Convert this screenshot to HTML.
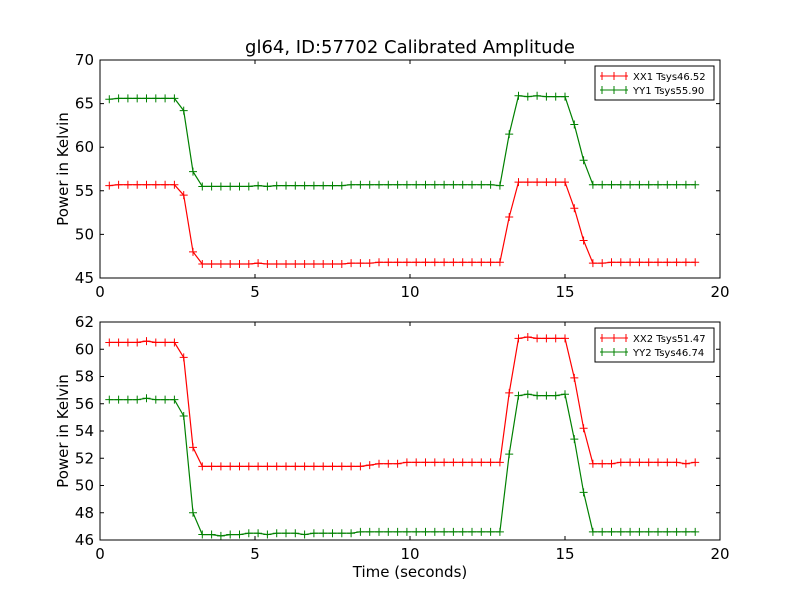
<!DOCTYPE html>
<html><head><meta charset="utf-8"><style>
body{margin:0;background:#fff;}
svg text{font-family:"DejaVu Sans","Liberation Sans",sans-serif;}
</style></head><body>
<svg id="chart" width="800" height="600" xmlns="http://www.w3.org/2000/svg">
<rect width="800" height="600" fill="#fff"/>
</svg>
<script>
const xx1 = [55.6,55.7,55.7,55.7,55.7,55.7,55.7,55.7,54.5,48.0,46.6,46.6,46.6,46.6,46.6,46.6,46.7,46.6,46.6,46.6,46.6,46.6,46.6,46.6,46.6,46.6,46.7,46.7,46.7,46.8,46.8,46.8,46.8,46.8,46.8,46.8,46.8,46.8,46.8,46.8,46.8,46.8,46.8,52.0,56.0,56.0,56.0,56.0,56.0,56.0,53.0,49.3,46.7,46.7,46.8,46.8,46.8,46.8,46.8,46.8,46.8,46.8,46.8,46.8];
const yy1 = [65.5,65.6,65.6,65.6,65.6,65.6,65.6,65.6,64.2,57.2,55.5,55.5,55.5,55.5,55.5,55.5,55.6,55.5,55.6,55.6,55.6,55.6,55.6,55.6,55.6,55.6,55.7,55.7,55.7,55.7,55.7,55.7,55.7,55.7,55.7,55.7,55.7,55.7,55.7,55.7,55.7,55.7,55.6,61.5,65.9,65.8,65.9,65.8,65.8,65.8,62.6,58.5,55.7,55.7,55.7,55.7,55.7,55.7,55.7,55.7,55.7,55.7,55.7,55.7];
const xx2 = [60.5,60.5,60.5,60.5,60.6,60.5,60.5,60.5,59.4,52.8,51.4,51.4,51.4,51.4,51.4,51.4,51.4,51.4,51.4,51.4,51.4,51.4,51.4,51.4,51.4,51.4,51.4,51.4,51.5,51.6,51.6,51.6,51.7,51.7,51.7,51.7,51.7,51.7,51.7,51.7,51.7,51.7,51.7,56.8,60.8,60.9,60.8,60.8,60.8,60.8,57.9,54.2,51.6,51.6,51.6,51.7,51.7,51.7,51.7,51.7,51.7,51.7,51.6,51.7];
const yy2 = [56.3,56.3,56.3,56.3,56.4,56.3,56.3,56.3,55.1,48.0,46.4,46.4,46.3,46.4,46.4,46.5,46.5,46.4,46.5,46.5,46.5,46.4,46.5,46.5,46.5,46.5,46.5,46.6,46.6,46.6,46.6,46.6,46.6,46.6,46.6,46.6,46.6,46.6,46.6,46.6,46.6,46.6,46.6,52.3,56.6,56.7,56.6,56.6,56.6,56.7,53.4,49.5,46.6,46.6,46.6,46.6,46.6,46.6,46.6,46.6,46.6,46.6,46.6,46.6];
const times = xx1.map((_,i)=>+(0.3+0.3*i).toFixed(2));
const xTicks = [0,5,10,15,20];
const yTicks1 = [45,50,55,60,65,70];
const yTicks2 = [46,48,50,52,54,56,58,60,62];
const legend1 = ["XX1 Tsys46.52","YY1 Tsys55.90"];
const legend2 = ["XX2 Tsys51.47","YY2 Tsys46.74"];

const svg = document.getElementById('chart');
const NS='http://www.w3.org/2000/svg';
function mk(tag, attrs, parent){const e=document.createElementNS(NS,tag);for(const k in attrs)e.setAttribute(k,attrs[k]);(parent||svg).appendChild(e);return e;}

function panel(top, bottom, ymin, ymax, yTicks, series, colors, labels, name){
  const L=100,R=720;
  const g=mk('g',{});
  
  
  const xs=v=>L+(v-0)/(20-0)*(R-L);
  const ys=v=>bottom-(v-ymin)/(ymax-ymin)*(bottom-top);
  series.forEach((s,si)=>{
    const pts=s.map((v,i)=>xs(times[i]).toFixed(1)+','+ys(v).toFixed(1)).join(' ');
    const pl=mk('polyline',{points:pts,fill:'none',stroke:colors[si],'stroke-width':1.2},g);
    
    
    s.forEach((v,i)=>{
      const x=xs(times[i]),y=ys(v);
      const m=mk('path',{d:`M${x-4},${y}H${x+4}M${x},${y-4}V${y+4}`,stroke:colors[si],'stroke-width':1},g);
      
      
    });
  });
  const fr=mk('rect',{x:L,y:top,width:R-L,height:bottom-top,fill:'none',stroke:'#000','stroke-width':1},g);
  
  
  xTicks.forEach(t=>{
    const x=xs(t);
    mk('path',{d:`M${x},${bottom}v-4M${x},${top}v4`,stroke:'#000'},g);
    const tx=mk('text',{x:x,y:bottom+19,'font-size':15,'text-anchor':'middle'},g);
    tx.textContent=t;
    
    
  });
  yTicks.forEach(t=>{
    const y=ys(t);
    mk('path',{d:`M${L},${y}h4M${R},${y}h-4`,stroke:'#000'},g);
    const tx=mk('text',{x:L-6,y:y+5,'font-size':15,'text-anchor':'end'},g);
    tx.textContent=t;
    
    
  });
  const yl=mk('text',{x:68,y:(top+bottom)/2,'font-size':15,'text-anchor':'middle',transform:`rotate(-90 68 ${(top+bottom)/2})`},g);
  yl.textContent='Power in Kelvin';
  
  
  const lg=mk('g',{},g);
  
  
  mk('rect',{x:595,y:top+6,width:119,height:34,fill:'#fff',stroke:'#000','stroke-width':1},lg);
  labels.forEach((lab,i)=>{
    const y=top+16+i*14;
    mk('path',{d:`M600,${y}h28M614,${y-4}v8M602,${y-4}v8M626,${y-4}v8`,stroke:colors[i]},lg);
    const tx=mk('text',{x:633,y:y+4,'font-size':10},lg);
    tx.textContent=lab;
    
    
  });
}
panel(60,278,45,70,yTicks1,[xx1,yy1],['#ff0000','#008000'],legend1,'top-panel');
panel(322,540,46,62,yTicks2,[xx2,yy2],['#ff0000','#008000'],legend2,'bottom-panel');
const title=mk('text',{x:410,y:53,'font-size':18,'text-anchor':'middle'});
title.textContent='gl64, ID:57702 Calibrated Amplitude';


const xt=mk('text',{x:410,y:577,'font-size':15,'text-anchor':'middle'});
xt.textContent='Time (seconds)';


</script>
</body></html>
